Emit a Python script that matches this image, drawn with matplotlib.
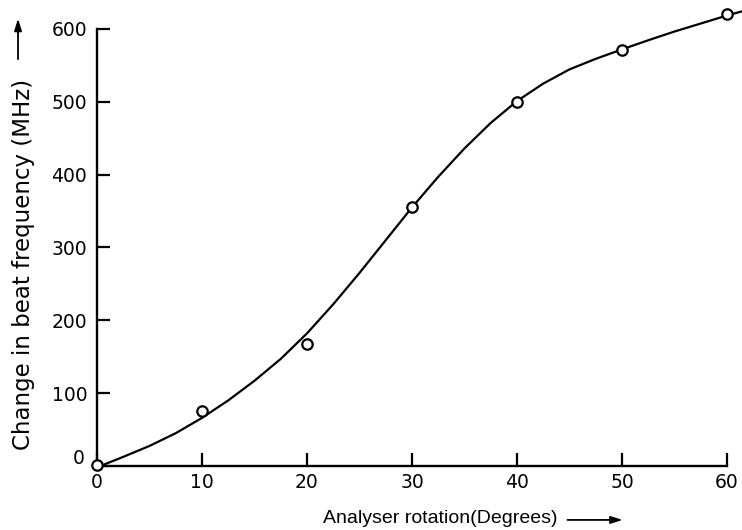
import numpy as np
import matplotlib
matplotlib.use('Agg')
from matplotlib import pyplot as plt
from matplotlib.transforms import ScaledTranslation


# measured points (open circles)
angle = [0, 10, 20, 30, 40, 50, 60]
beat = [2, 75, 168, 355, 500, 571, 620]

# smooth curve drawn through the points
curve_angle = [0.5, 2.5, 5, 7.5, 10, 12.5, 15, 17.5, 20, 22.5, 25, 27.5, 30,
               32.5, 35, 37.5, 40, 42.5, 45, 47.5, 50, 52.5, 55, 57.5, 60, 61.5]
curve_beat = [1, 12.5, 27.5, 45, 66, 90, 117, 147, 182, 222, 265, 310, 355,
              397, 436, 471, 501, 525, 544.5, 559, 572, 584.5, 596.5, 607.5, 618.5, 624.5]

x_ticks = [0, 10, 20, 30, 40, 50, 60]
y_ticks = [0, 100, 200, 300, 400, 500, 600]

plt.rcParams['font.family'] = ['DejaVu Sans']

fig = plt.figure(figsize=(7.42, 5.30), dpi=100)
ax = fig.add_axes([0.1307, 0.1208, 0.849, 0.8245])

ax.plot(curve_angle, curve_beat, color='black', lw=1.6, clip_on=False, zorder=2,
        solid_joinstyle='round')
ax.plot(angle, beat, 'o', ms=7.5, mfc='white', mec='black', mew=1.6,
        clip_on=False, zorder=3)

ax.set_xlim(0, 60)
ax.set_ylim(0, 600)
ax.set_xticks(x_ticks)
ax.set_yticks(y_ticks)

ax.spines['top'].set_visible(False)
ax.spines['right'].set_visible(False)
ax.spines['left'].set_linewidth(1.7)
ax.spines['bottom'].set_linewidth(1.7)

ax.tick_params(axis='both', direction='in', width=1.6, labelsize=13.5)
ax.tick_params(axis='y', length=9, pad=7)
ax.tick_params(axis='x', length=9.5, pad=5)

# the zero on the y axis sits a little higher and further left
lbl0 = ax.get_yticklabels()[0]
lbl0.set_transform(lbl0.get_transform() + ScaledTranslation(-2 / 72, 6.5 / 72, fig.dpi_scale_trans))

fig.text(0.031, 0.502, 'Change in beat frequency (MHz)', rotation=90,
         ha='center', va='center', fontsize=16.5)
ax.annotate('', xy=(0.0243, 0.970), xytext=(0.0243, 0.883), xycoords='figure fraction',
            arrowprops=dict(arrowstyle='-|>,head_length=0.7,head_width=0.22',
                            color='black', lw=1.3))

fig.text(0.593, 0.021, 'Analyser rotation(Degrees)', ha='center', va='center',
         fontsize=14, family=['Liberation Sans', 'DejaVu Sans'])
ax.annotate('', xy=(0.843, 0.019), xytext=(0.761, 0.019), xycoords='figure fraction',
            arrowprops=dict(arrowstyle='-|>,head_length=0.7,head_width=0.22',
                            color='black', lw=1.3))

fig.savefig('out.png', dpi=100)
